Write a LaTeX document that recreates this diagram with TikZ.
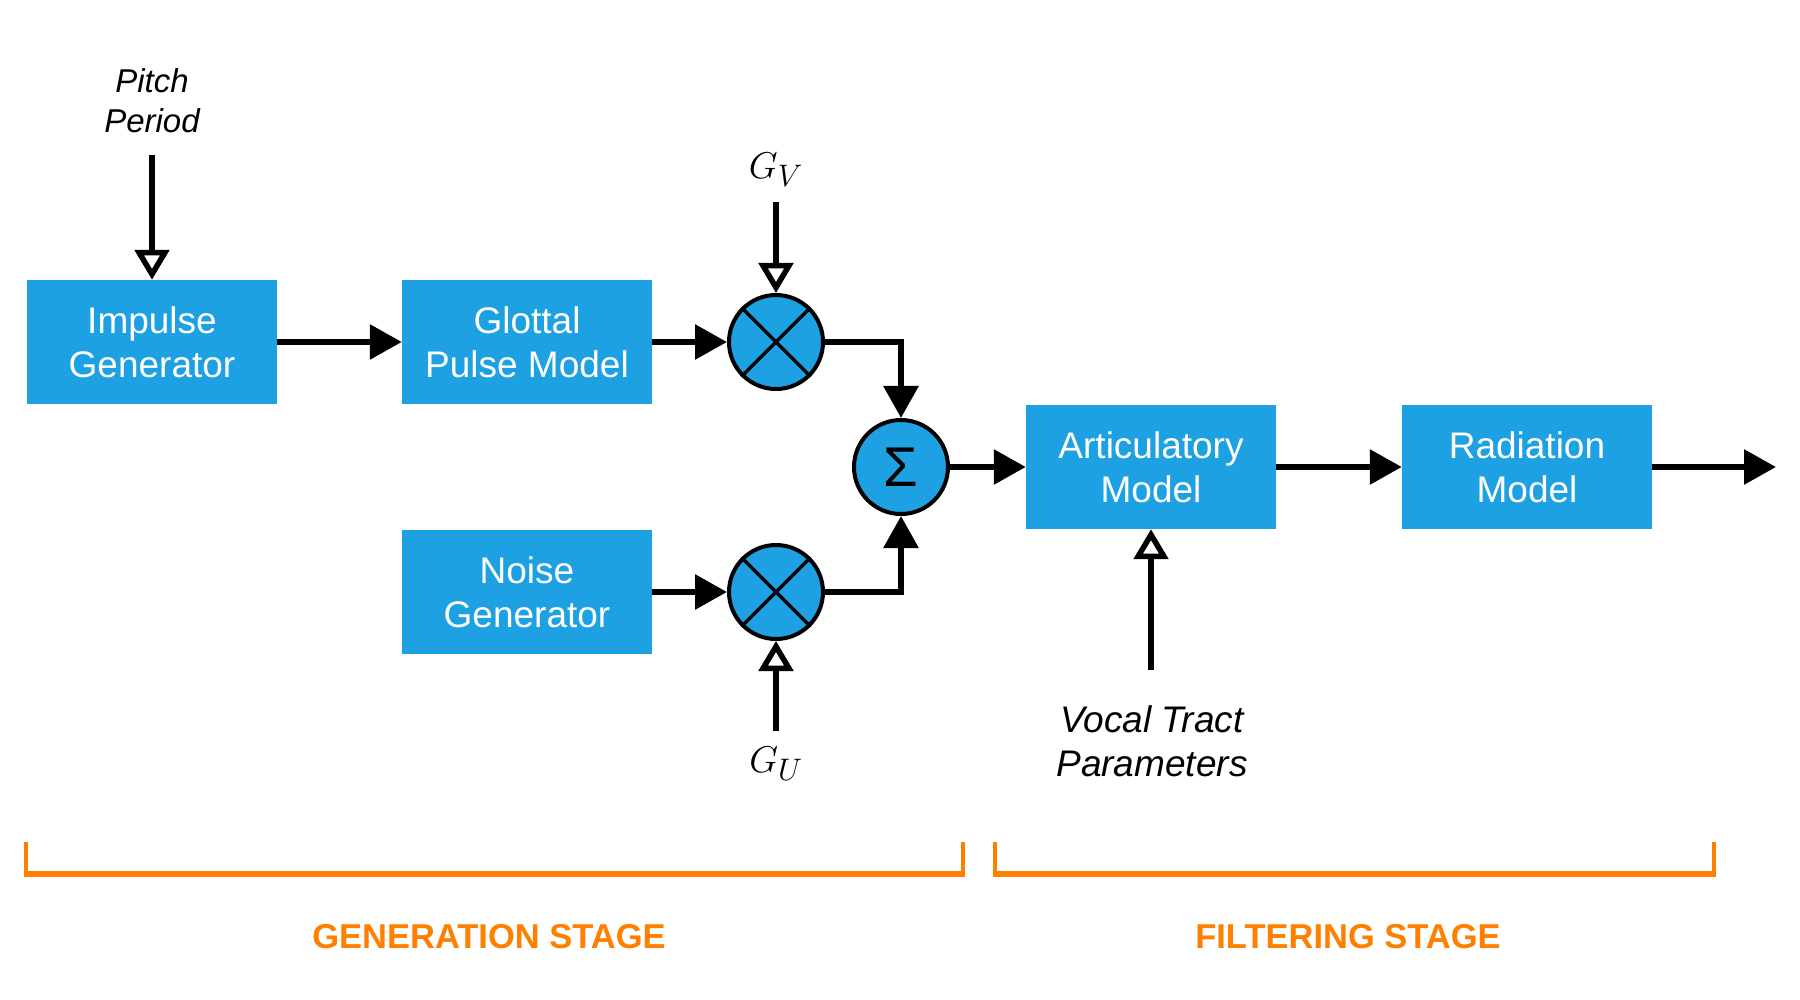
\documentclass[tikz,border=0pt]{standalone}
\usepackage{fontspec}
\setmainfont{Liberation Sans}
\usetikzlibrary{arrows.meta}
\definecolor{boxblue}{RGB}{29,161,226}
\definecolor{stageorange}{RGB}{255,128,0}
\begin{document}
\begin{tikzpicture}[x=1pt,y=-1pt,
  block/.style={fill=boxblue, minimum width=250pt, minimum height=124pt, inner sep=0pt, text=white, align=center, font=\fontsize{37}{44}\selectfont},
  opnode/.style={circle, draw=black, line width=4pt, fill=boxblue, minimum size=94pt, inner sep=0pt},
  conn/.style={line width=6pt, line join=miter, -{Triangle[length=32pt,width=34pt]}},
  ctrl/.style={line width=6pt, -{Triangle[open,length=30pt,width=34pt,line width=5.5pt]}},
  lbl/.style={font=\itshape\fontsize{37}{44}\selectfont, align=center},
  gain/.style={scale=1.5, font=\Huge},
  stage/.style={text=stageorange, font=\bfseries\fontsize{34.5}{42}\selectfont},
  brk/.style={draw=stageorange, line width=4.5pt},
  brkbar/.style={draw=stageorange, line width=6pt}]
\useasboundingbox (0,0) rectangle (1800,1000);
% blocks
\node[block] (imp) at (152,342) {Impulse\\Generator};
\node[block] (glot) at (527,342) {Glottal\\Pulse Model};
\node[block] (noise) at (527,592) {Noise\\Generator};
\node[block] (art) at (1151,467) {Articulatory\\Model};
\node[block] (rad) at (1527,467) {Radiation\\Model};
% operators
\node[opnode] (m1) at (776,342) {};
\node[opnode] (m2) at (776,592) {};
\node[opnode, font=\fontsize{56}{56}\selectfont] (sum) at (901,467) {Σ};
\foreach \m in {m1,m2}{
  \draw[line width=3.5pt] (\m.45) -- (\m.225);
  \draw[line width=3.5pt] (\m.135) -- (\m.315);
}
% labels
\node[lbl, font=\itshape\fontsize{33}{40}\selectfont] (pitch) at (152,101) {Pitch\\Period};
\node[gain] (gv) at (776,170) {$G_V$};
\node[gain] (gu) at (776,764) {$G_U$};
\node[lbl] (vocal) at (1152,741) {Vocal Tract\\Parameters};
\coordinate (pitchstart) at (152,155);
\coordinate (gvstart) at (776,202);
\coordinate (gustart) at (776,731);
\coordinate (vocalstart) at (1151,670);
\coordinate (outend) at (1776,467);
% connectors
\draw[conn] (imp) -- (glot);
\draw[conn] (glot) -- (m1);
\draw[conn] (noise) -- (m2);
\draw[conn] (m1.east) -| (sum.north);
\draw[conn] (m2.east) -| (sum.south);
\draw[conn] (sum) -- (art);
\draw[conn] (art) -- (rad);
\draw[conn] (rad) -- (outend);
\draw[ctrl] (pitchstart) -- (imp.north);
\draw[ctrl] (gvstart) -- (m1.north);
\draw[ctrl] (gustart) -- (m2.south);
\draw[ctrl] (vocalstart) -- (art.south);
% stage brackets
\draw[brk] (26,842) -- (26,876);
\draw[brk] (963,842) -- (963,876);
\draw[brkbar] (23.75,874) -- (965.25,874);
\draw[brk] (995,842) -- (995,876);
\draw[brk] (1714,842) -- (1714,876);
\draw[brkbar] (992.75,874) -- (1716.25,874);
\node[stage, anchor=base] (gen) at (489,948) {GENERATION STAGE};
\node[stage, anchor=base] (filt) at (1348,948) {FILTERING STAGE};
\end{tikzpicture}
\end{document}
